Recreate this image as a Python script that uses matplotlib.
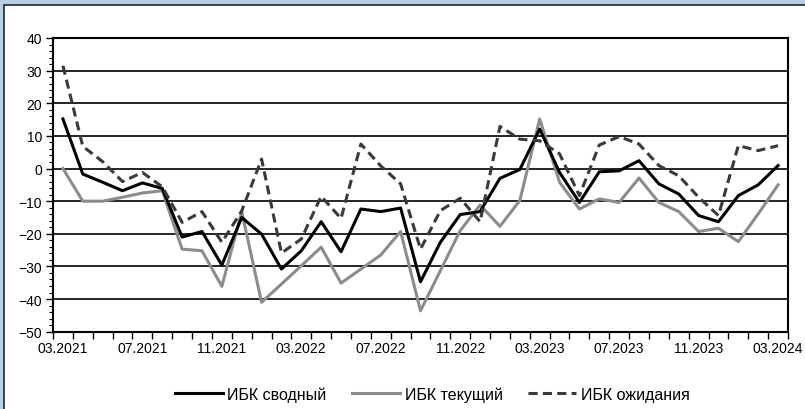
import matplotlib
matplotlib.use("Agg")
import matplotlib.pyplot as plt
from matplotlib.patches import Rectangle
from matplotlib.ticker import MultipleLocator, FixedLocator, NullFormatter
import numpy as np

plt.rcParams["font.family"] = ["Liberation Sans", "DejaVu Sans"]

# Monthly categories 03.2021 .. 03.2024
months = [f"{m:02d}.{y}" for y in range(2021, 2025) for m in range(1, 13)]
months = months[months.index("03.2021"):months.index("03.2024") + 1]

# Business climate indices
ibk_summary = [15.2, -1.7, -4.2, -6.8, -4.4, -6.1, -21.0, -19.3, -29.6, -15.0,
               -20.1, -30.8, -25.2, -16.3, -25.5, -12.4, -13.2, -12.1, -34.7, -22.6,
               -14.1, -13.2, -3.0, -0.3, 12.1, -1.2, -10.4, -1.0, -0.7, 2.4,
               -4.7, -7.8, -14.4, -16.3, -8.3, -5.0, 0.9]
ibk_current = [0.0, -10.0, -10.0, -8.8, -7.5, -6.8, -24.7, -25.2, -36.1, -13.2,
               -41.0, -35.4, -29.8, -24.1, -35.1, -30.8, -26.5, -19.3, -43.6, -31.3,
               -19.0, -11.2, -17.7, -9.8, 15.2, -4.2, -12.4, -9.3, -10.4, -2.9,
               -10.4, -13.2, -19.3, -18.3, -22.4, -13.9, -5.0]
ibk_expect = [31.5, 6.8, 2.1, -4.0, -1.2, -5.6, -16.5, -13.2, -22.6, -13.0,
              2.9, -25.9, -21.6, -8.5, -15.3, 7.5, 0.8, -4.7, -24.7, -12.9,
              -9.1, -16.3, 12.9, 9.0, 8.5, 4.5, -8.3, 7.2, 9.8, 7.5,
              0.9, -2.2, -8.8, -14.4, 7.0, 5.5, 7.0]

series_names = ["ИБК сводный", "ИБК текущий", "ИБК ожидания"]
y_ticks = list(range(-50, 41, 10))

W, H = 805, 410
fig = plt.figure(figsize=(W / 100, H / 100), dpi=100)
fig.patch.set_facecolor("#b9cde5")

# white chart panel with a dark frame
panel = Rectangle((4 / W, -0.05), 1.1, (H - 6) / H + 0.05,
                  transform=fig.transFigure, facecolor="white",
                  edgecolor="#262626", linewidth=1.2, zorder=-5)
fig.patches.append(panel)

ax = fig.add_axes([53 / W, 1 - 332.7 / H, (788 - 53) / W, (332.7 - 39) / H])
ax.set_zorder(2)
ax.set_facecolor("white")

x = np.arange(len(months))
lw = 2.2
ax.plot(x, ibk_summary, color="black", lw=lw, label=series_names[0], zorder=4)
ax.plot(x, ibk_current, color="#8c8c8c", lw=lw, label=series_names[1], zorder=3)
ax.plot(x, ibk_expect, color="#3a3a3a", lw=lw, dashes=(3.0, 1.7),
        label=series_names[2], zorder=5)

ax.set_xlim(-0.5, len(months) - 0.5)
ax.set_ylim(-50, 40)

ax.yaxis.set_major_locator(FixedLocator(y_ticks))
ax.yaxis.set_minor_locator(MultipleLocator(2))
ax.tick_params(axis="y", which="major", direction="out", length=5, width=1,
               labelsize=10, pad=3)
ax.tick_params(axis="y", which="minor", direction="out", length=3, width=0.8)

# ticks on category boundaries, labels under every fourth month
ax.xaxis.set_major_locator(FixedLocator(np.arange(-0.5, len(months), 1.0)))
ax.xaxis.set_major_formatter(NullFormatter())
ax.xaxis.set_minor_locator(FixedLocator(x[::4]))
ax.set_xticklabels([months[i] for i in x[::4]], minor=True)
ax.tick_params(axis="x", which="major", direction="out", length=5, width=1)
ax.tick_params(axis="x", which="minor", length=0, labelsize=10, pad=7)

ax.grid(axis="y", which="major", color="black", lw=1.2, zorder=1)
for s in ax.spines.values():
    s.set_color("black")
    s.set_linewidth(1.5)

leg = fig.legend(loc="center", bbox_to_anchor=(0.537, 1 - 395 / H), ncol=3,
                 frameon=False, handlelength=3.0, columnspacing=1.6,
                 handletextpad=0.3, prop={"size": 11.5})
leg.set_zorder(3)

fig.savefig("out.png", dpi=100, facecolor=fig.get_facecolor())
